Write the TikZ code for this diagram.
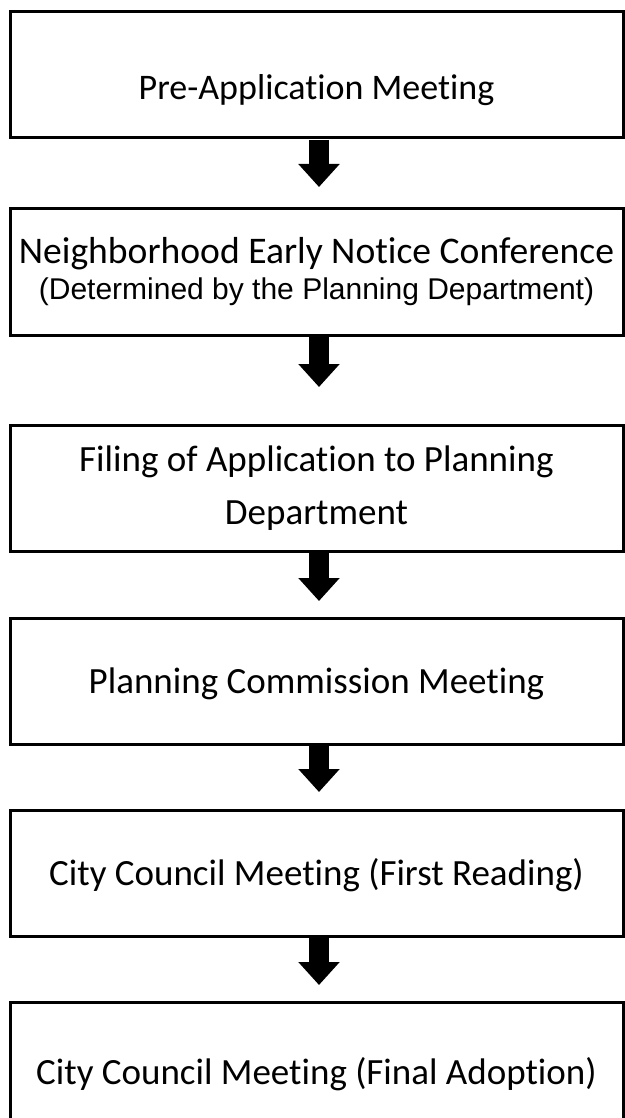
\documentclass[tikz,border=0pt]{standalone}
\usepackage{fontspec}
\setmainfont{Carlito}[Ligatures=NoCommon]
\newfontfamily\notefont{Liberation Sans}
\usetikzlibrary{positioning}
\usetikzlibrary{arrows.meta}

\begin{document}
\begin{tikzpicture}[
    stagebox/.style={draw, line width=3pt,
        minimum width=613pt, minimum height=126pt,
        inner sep=0pt, outer sep=0pt,
        align=center, font=\fontsize{37}{53}\selectfont},
    flow/.style={line width=20pt,
        -{Triangle[width=40pt,length=23pt]},
        shorten <=2pt, shorten >=#1}
]
\useasboundingbox (0,0) rectangle (624pt,-1118pt);

 % Stages
 \node[stagebox, font=\fontsize{36}{52}\selectfont,
    text height=50pt, text depth=0pt] (preapp) at (316.5pt,-75pt) {Pre-Application Meeting};

\node [stagebox,
    minimum height=127pt,
    font=\fontsize{37.6}{53}\selectfont,
    below=70pt of preapp
] (notice) {Neighborhood Early Notice Conference\\[-17pt]
    {\notefont\fontsize{30}{34}\selectfont (Determined by the Planning Department)}};

\node [stagebox,
    below=90pt of notice
] (filing) {Filing of Application to Planning\\Department};

\node [stagebox,
    text height=24pt, text depth=0pt,
    below=67pt of filing
] (commission) {Planning Commission Meeting};

\node [stagebox,
    text height=24pt, text depth=0pt,
    below=66pt of commission
] (firstread) {City Council Meeting (First Reading)};

\node [stagebox,
    text height=38pt, text depth=0pt,
    below=66pt of firstread
] (adoption) {City Council Meeting (Final Adoption)};

% Arrows between stages
\draw[flow=21pt] ([xshift=2.5pt]preapp.south) -- ([xshift=2.5pt]notice.north);
\draw[flow=38pt] ([xshift=2.5pt]notice.south) -- ([xshift=2.5pt]filing.north);
\draw[flow=17pt] ([xshift=2.5pt]filing.south) -- ([xshift=2.5pt]commission.north);
\draw[flow=18pt] ([xshift=2.5pt]commission.south) -- ([xshift=2.5pt]firstread.north);
\draw[flow=17pt] ([xshift=2.5pt]firstread.south) -- ([xshift=2.5pt]adoption.north);
\end{tikzpicture}
\end{document}
